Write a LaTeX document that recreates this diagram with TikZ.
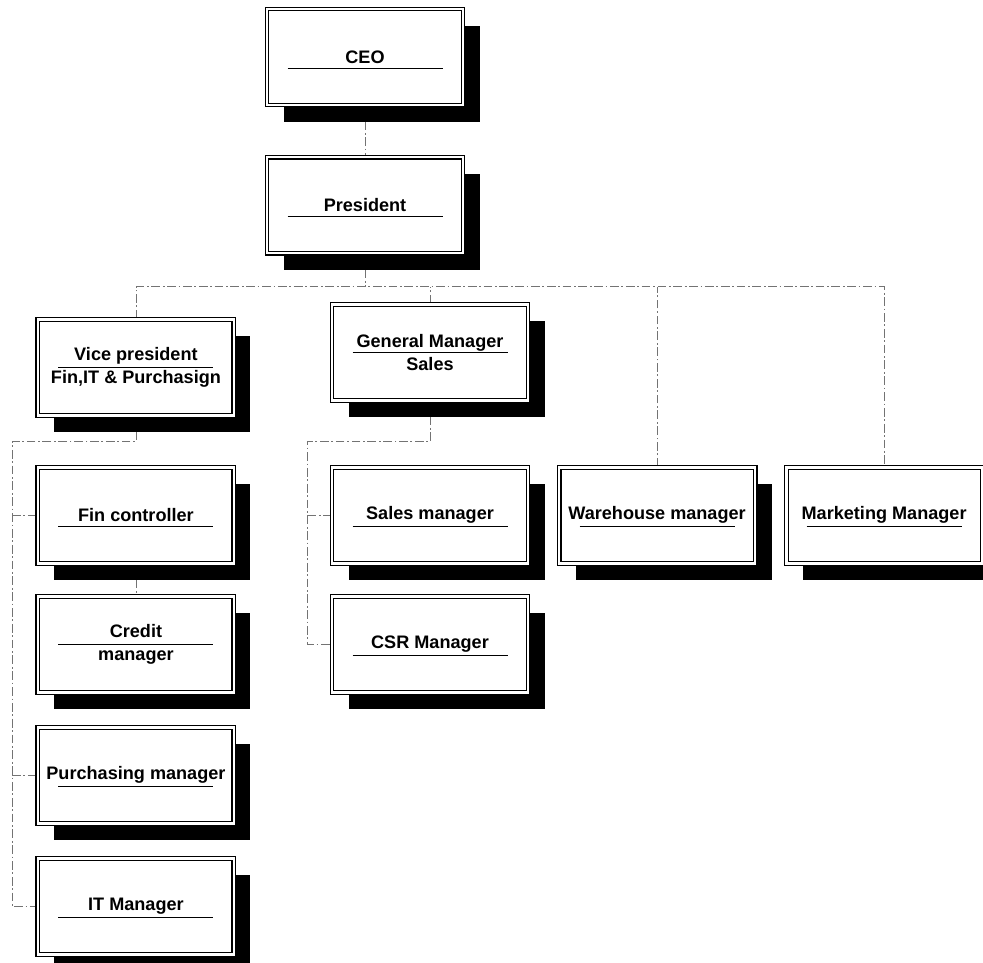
\documentclass[tikz,border=0pt]{standalone}
\usepackage{fontspec}
\setmainfont{Liberation Sans}
\usetikzlibrary{positioning, shadows, backgrounds, calc}

\begin{document}
\begin{tikzpicture}[
    node distance=0.64cm and 0.6cm,
    post/.style={rectangle, draw=black, line width=0.6pt, double, double distance=1.6pt, fill=white, align=center, minimum width=3.92cm, minimum height=1.92cm, font=\fontsize{10.3}{13}\selectfont\bfseries, drop shadow={shadow xshift=0.33cm, shadow yshift=-0.33cm, fill=black, opacity=1}},
    uline/.style={path picture={\draw[line width=0.7pt] ([shift={(-1.55,#1)}]path picture bounding box.center) -- ++(3.1,0);}},
    onel/.style={post, uline=-0.23},
    twol/.style={post, uline=0},
    conn/.style={draw=black!55, line width=0.5pt, dash pattern=on 5pt off 1.5pt on 1pt off 1.5pt},
]
\useasboundingbox (0,0) rectangle (19.66,-19.24);

\node [onel] (ceo) at (7.3,-1.14) {CEO};
\node [onel, below=1.02cm of ceo] (pres) {President};
\node [twol, below left=1.3cm and 0.64cm of pres] (vp) {Vice president\\Fin,IT \& Purchasign};
\node [twol, right=1.94cm of vp, yshift=0.3cm] (gm) {General Manager\\Sales};
\node [onel, below=1.02cm of vp] (fin) {Fin controller};
\node [twol, below=of fin] (credit) {Credit\\manager};
\node [onel, below=0.68cm of credit] (purch) {Purchasing manager};
\node [onel, below=0.68cm of purch] (itm) {IT Manager};
\node [onel, below=1.32cm of gm] (sales) {Sales manager};
\node [onel, below=of sales] (csr) {CSR Manager};
\node [onel, right=of sales] (ware) {Warehouse manager};
\node [onel, right=of ware] (mkt) {Marketing Manager};

\begin{scope}[on background layer]
\draw [conn] (ceo) -- (pres);
\draw [conn] (pres.south) -- ++(0,-0.66) coordinate (bus);
\draw [conn] (vp.north) |- (bus) -| (mkt.north);
\draw [conn] (gm.north) -- (gm.north |- bus);
\draw [conn] (ware.north) -- (ware.north |- bus);
\coordinate (rail) at (0.24,0);
\draw [conn] (vp.south) -- ++(0,-0.52) -| (rail |- itm.west) -- (itm.west);
\draw [conn] (rail |- fin.west) -- (fin.west);
\draw [conn] (rail |- purch.west) -- (purch.west);
\draw [conn] (fin) -- (credit);
\draw [conn] (gm.south) -- ++(0,-0.82) -| ($(csr.west)+(-0.48,0)$) -- (csr.west);
\draw [conn] ($(sales.west)+(-0.48,0)$) -- (sales.west);
\end{scope}
\end{tikzpicture}
\end{document}
